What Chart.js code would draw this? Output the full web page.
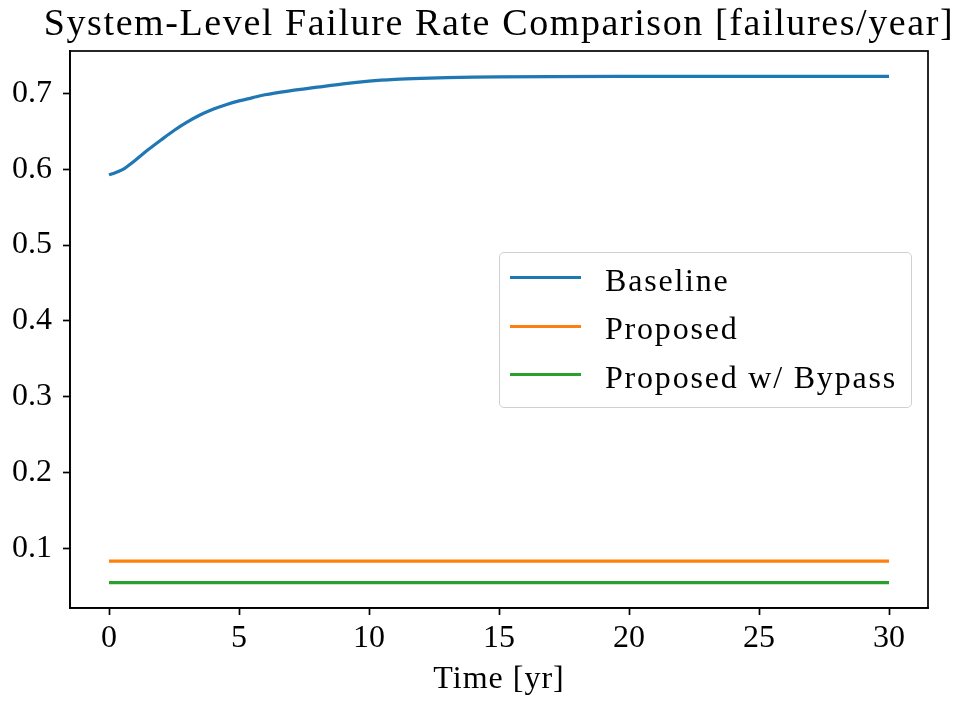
<!DOCTYPE html>
<html>
<head>
<meta charset="utf-8">
<script src="https://cdn.jsdelivr.net/npm/chart.js@4/dist/chart.umd.min.js"></script>
<style>
  html, body { margin: 0; padding: 0; background: #fff; }
  #wrap { position: relative; width: 956px; height: 702px; font-family: "Liberation Serif", serif; color: #000; }
  #title { position: absolute; left: 0; width: 998px; top: 3px; text-align: center; font-size: 38px;
           line-height: 38px; letter-spacing: 1.6px; white-space: nowrap; }
  #xlabel { position: absolute; left: 0; width: 998px; top: 661px; text-align: center; font-size: 32px;
            line-height: 32px; letter-spacing: 1px; white-space: nowrap; }
  #legend {
    position: absolute; left: 499px; top: 252px; width: 413px; height: 156px; box-sizing: border-box;
    border: 1.6px solid #d0d0d0; border-radius: 5px; background: rgba(255,255,255,0.8);
    font-size: 32px;
  }
  .row { position: absolute; left: 0; height: 32px; }
  .swatch { position: absolute; left: 9.5px; width: 71px; height: 3px; top: 12.8px; }
  .lbl { position: absolute; left: 105px; top: 0px; white-space: nowrap; line-height: 32px; letter-spacing: 1.8px; }
</style>
</head>
<body>
<div id="wrap">
  <canvas id="c" width="956" height="702"></canvas>
  <div id="title"></div>
  <div id="xlabel"></div>
  <div id="legend"></div>
</div>
<script>
// ---- data ----
const titleText = "System-Level Failure Rate Comparison [failures/year]";
const xLabel = "Time [yr]";
const seriesNames = ["Baseline", "Proposed", "Proposed w/ Bypass"];
const seriesColors = ["#1f77b4", "#ff7f0e", "#2ca02c"];

const baselineTimes  = [0, 0.5, 1, 1.5, 2, 2.5, 3, 3.5, 4, 4.5, 5, 5.5, 6, 7, 8, 9, 10, 11, 12, 13, 14, 15, 17, 20, 25, 30];
const baselineValues = [0.5925, 0.599, 0.6115, 0.6255, 0.6385, 0.651, 0.662, 0.6714, 0.679, 0.685, 0.690, 0.694,
                        0.698, 0.7035, 0.708, 0.7125, 0.716, 0.7183, 0.7197, 0.7206, 0.7212, 0.7216, 0.722,
                        0.7222, 0.7223, 0.7223];
const proposedTimes  = [0, 30];
const proposedValues = [0.0837, 0.0837];
const bypassTimes    = [0, 30];
const bypassValues   = [0.0553, 0.0553];

const xTicks = [0, 5, 10, 15, 20, 25, 30];
const yTicks = [0.1, 0.2, 0.3, 0.4, 0.5, 0.6, 0.7];

// ---- build ----
function pts(t, v) { return t.map((x, i) => ({ x: x, y: v[i] })); }
const FONT = "'Liberation Serif', serif";

document.getElementById('title').textContent = titleText;
document.getElementById('xlabel').textContent = xLabel;

const frame = {
  id: 'frame',
  afterDraw(chart) {
    const a = chart.chartArea, ctx = chart.ctx;
    ctx.save();
    ctx.strokeStyle = '#000';
    ctx.lineWidth = 1.7;
    ctx.strokeRect(a.left, a.top, a.right - a.left, a.bottom - a.top);
    ctx.restore();
  }
};

const datasets = [
  pts(baselineTimes, baselineValues),
  pts(proposedTimes, proposedValues),
  pts(bypassTimes, bypassValues)
].map((d, i) => ({
  label: seriesNames[i], data: d, borderColor: seriesColors[i], backgroundColor: seriesColors[i],
  borderWidth: 3.2, pointRadius: 0, cubicInterpolationMode: 'monotone', fill: false
}));

new Chart(document.getElementById('c'), {
  type: 'line',
  data: { datasets },
  options: {
    responsive: false, animation: false,
    layout: { padding: { left: 0, right: 28, top: 51, bottom: 0 } },
    plugins: {
      legend: { display: false },
      tooltip: { enabled: false },
      title: { display: false }
    },
    scales: {
      x: {
        type: 'linear', min: -1.5, max: 31.5,
        afterBuildTicks: s => { s.ticks = xTicks.map(v => ({ value: v })); },
        afterFit: s => { s.height = 94; },
        grid: { drawOnChartArea: false, drawTicks: true, tickLength: 7, tickWidth: 1.7, tickColor: '#000' },
        border: { display: true, color: '#000', width: 1.7 },
        ticks: { color: '#000', font: { family: FONT, size: 32 }, padding: 4, maxRotation: 0,
                 callback: v => String(v) }
      },
      y: {
        type: 'linear', min: 0.0219, max: 0.7557,
        afterBuildTicks: s => { s.ticks = yTicks.map(v => ({ value: v })); },
        afterFit: s => { s.width = 70; },
        grid: { drawOnChartArea: false, drawTicks: true, tickLength: 7, tickWidth: 1.7, tickColor: '#000' },
        border: { display: true, color: '#000', width: 1.7 },
        ticks: { color: '#000', font: { family: FONT, size: 32 }, padding: 11,
                 callback: v => Number(v).toFixed(1) }
      }
    }
  },
  plugins: [frame]
});

// HTML legend
const leg = document.getElementById('legend');
const rowTops = [10.5, 59, 107.5];
seriesNames.forEach((n, i) => {
  const r = document.createElement('div');
  r.className = 'row'; r.style.top = rowTops[i] + 'px';
  const sw = document.createElement('div'); sw.className = 'swatch'; sw.style.background = seriesColors[i];
  const lb = document.createElement('div'); lb.className = 'lbl'; lb.textContent = n;
  r.appendChild(sw); r.appendChild(lb); leg.appendChild(r);
});
</script>
</body>
</html>
